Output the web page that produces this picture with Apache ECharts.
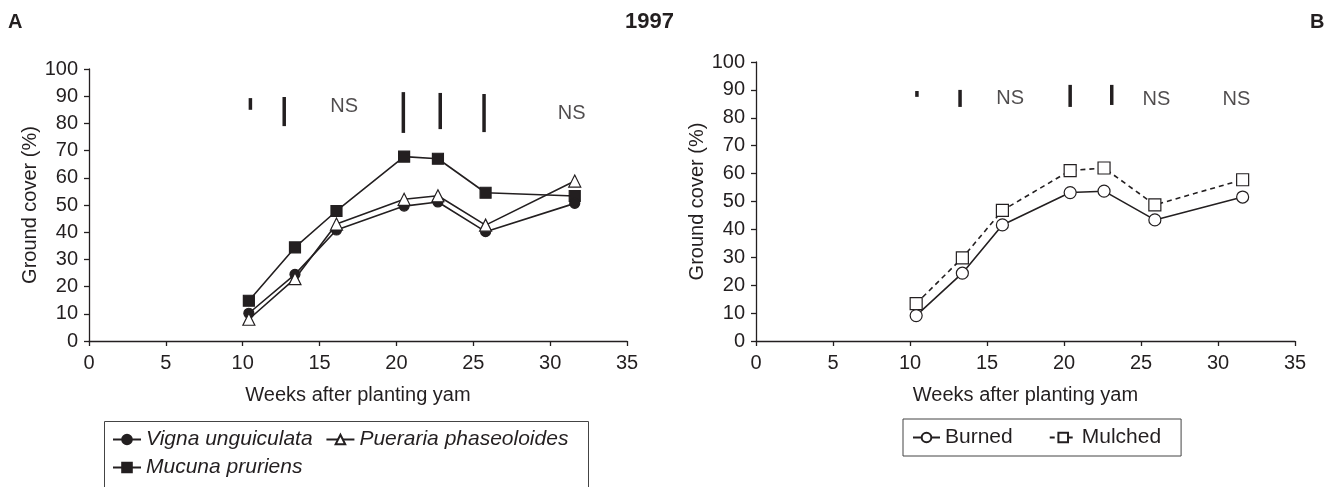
<!DOCTYPE html>
<html>
<head>
<meta charset="utf-8">
<script src="https://cdn.jsdelivr.net/npm/echarts@6/dist/echarts.min.js"></script>
<style>
  html, body { margin: 0; padding: 0; background: #fff; }
  #chart { width: 1338px; height: 487px; }
</style>
</head>
<body>
<div id="chart"></div>
<script>
// panel A: cover crops
const weeksA = [10.4, 13.4, 16.1, 20.5, 22.7, 25.8, 31.6]
const vigna = [10.2, 24.5, 40.8, 49.6, 51.1, 40.2, 50.6]
const pueraria = [8.0, 22.9, 43.0, 52.1, 53.4, 42.6, 58.8]
const mucuna = [14.8, 34.4, 47.8, 67.8, 67.0, 54.5, 53.3]
// LSD bars [week, low, high] and NS positions [week, y]
const lsdA = [[10.5, 85.0, 89.3], [12.7, 79.0, 89.7], [20.45, 76.5, 91.5], [22.85, 77.9, 91.2], [25.7, 76.8, 90.8]]
const nsA = [[16.6, 86.4], [31.4, 83.5]]

// panel B: residue management
const weeksB = [10.4, 13.4, 16.0, 20.4, 22.6, 25.9, 31.6]
const burned = [9.1, 24.3, 41.6, 53.2, 53.7, 43.4, 51.6]
const mulched = [13.4, 29.8, 46.8, 61.1, 62.0, 48.8, 57.8]
const lsdB = [[10.45, 87.5, 89.6], [13.25, 83.9, 90.0], [20.4, 83.9, 91.8], [23.1, 84.6, 91.8]]
const nsB = [[16.5, 87.1], [26.0, 86.4], [31.2, 86.4]]

const xTicks = { min: 0, max: 35, interval: 5 }
const yTicks = { min: 0, max: 100, interval: 10 }

const INK = '#231f20'
const FONT = 'Liberation Sans'

const chart = echarts.init(document.getElementById('chart'))

const pairs = (xs, ys) => xs.map((x, i) => [x, ys[i]])

const makeX = (gridIndex) => ({
  type: 'value',
  gridIndex,
  ...xTicks,
  name: 'Weeks after planting yam',
  nameLocation: 'middle',
  nameGap: 44,
  nameTextStyle: { color: INK, fontSize: 20, fontFamily: FONT },
  axisLine: { lineStyle: { color: INK, width: 1.3 } },
  axisTick: { show: true, length: 5, lineStyle: { color: INK, width: 1.3 } },
  axisLabel: { color: INK, fontSize: 20, fontFamily: FONT, margin: 12 },
  splitLine: { show: false }
})

const makeY = (gridIndex) => ({
  type: 'value',
  gridIndex,
  ...yTicks,
  name: 'Ground cover (%)',
  nameLocation: 'middle',
  nameGap: 48,
  nameTextStyle: { color: INK, fontSize: 20, fontFamily: FONT },
  axisLine: { show: true, lineStyle: { color: INK, width: 1.3 } },
  axisTick: { show: true, length: 5, lineStyle: { color: INK, width: 1.3 } },
  axisLabel: { color: INK, fontSize: 20, fontFamily: FONT, margin: 11 },
  splitLine: { show: false }
})

const lsdSeries = (data, idx) => ({
  type: 'custom',
  xAxisIndex: idx,
  yAxisIndex: idx,
  data,
  encode: { x: 0, y: [1, 2] },
  silent: true,
  renderItem: (params, api) => {
    const p1 = api.coord([api.value(0), api.value(1)])
    const p2 = api.coord([api.value(0), api.value(2)])
    return {
      type: 'line',
      shape: { x1: p1[0], y1: p1[1], x2: p2[0], y2: p2[1] },
      style: { stroke: INK, lineWidth: 3.5 }
    }
  }
})

const nsSeries = (data, idx) => ({
  type: 'scatter',
  xAxisIndex: idx,
  yAxisIndex: idx,
  data,
  symbolSize: 0,
  silent: true,
  label: {
    show: true,
    position: 'inside',
    formatter: 'NS',
    color: INK,
    fontSize: 20,
    fontFamily: FONT
  }
})

const lineSeries = (name, xs, ys, idx, opts) => ({
  name,
  type: 'line',
  xAxisIndex: idx,
  yAxisIndex: idx,
  data: pairs(xs, ys),
  symbol: opts.symbol,
  symbolSize: opts.size,
  lineStyle: { color: INK, width: 1.6, type: opts.dash ? [5, 4] : 'solid' },
  itemStyle: { color: opts.fill, borderColor: INK, borderWidth: 1.2 },
  z: opts.z || 2
})

const option = {
  animation: false,
  textStyle: { fontFamily: FONT },
  title: [
    { text: 'A', left: 3, top: 7, textStyle: { fontSize: 20, fontWeight: 'bold', color: INK, fontFamily: FONT } },
    { text: '1997', left: 620, top: 6, textStyle: { fontSize: 22, fontWeight: 'bold', color: INK, fontFamily: FONT } },
    { text: 'B', left: 1305, top: 7, textStyle: { fontSize: 20, fontWeight: 'bold', color: INK, fontFamily: FONT } }
  ],
  grid: [
    { left: 89, right: 711, top: 69, bottom: 146 },
    { left: 756, right: 43, top: 62, bottom: 146 }
  ],
  xAxis: [makeX(0), makeX(1)],
  yAxis: [makeY(0), makeY(1)],
  legend: [
    {
      data: ['Vigna unguiculata', 'Pueraria phaseoloides', 'Mucuna pruriens'],
      left: 102,
      top: 419,
      width: 500,
      padding: [10, 10],
      itemGap: 7,
      itemWidth: 28,
      itemHeight: 12,
      formatter: (name) => name + ' ',
      textStyle: { color: INK, fontSize: 21, fontStyle: 'italic', fontFamily: FONT }
    },
    {
      data: ['Burned', 'Mulched'],
      left: 903,
      top: 419,
      padding: [8, 20, 8, 9],
      itemGap: 36,
      itemWidth: 27,
      itemHeight: 12,
      borderColor: '#444',
      borderWidth: 1,
      textStyle: { color: INK, fontSize: 21, fontFamily: FONT }
    }
  ],
  graphic: [
    {
      type: 'rect',
      left: 102,
      top: 419,
      shape: { width: 484, height: 80 },
      style: { fill: 'none', stroke: '#444', lineWidth: 1 }
    }
  ],
  series: [
    lineSeries('Vigna unguiculata', weeksA, vigna, 0, { symbol: 'circle', size: 10, fill: INK, z: 3 }),
    lineSeries('Pueraria phaseoloides', weeksA, pueraria, 0, { symbol: 'triangle', size: 12, fill: '#fff', z: 4 }),
    lineSeries('Mucuna pruriens', weeksA, mucuna, 0, { symbol: 'rect', size: 11, fill: INK, z: 2 }),
    lsdSeries(lsdA, 0),
    nsSeries(nsA, 0),
    lineSeries('Burned', weeksB, burned, 1, { symbol: 'circle', size: 12, fill: '#fff', z: 3 }),
    lineSeries('Mulched', weeksB, mulched, 1, { symbol: 'rect', size: 12, fill: '#fff', dash: true, z: 2 }),
    lsdSeries(lsdB, 1),
    nsSeries(nsB, 1)
  ]
}

chart.setOption(option)
</script>
</body>
</html>
